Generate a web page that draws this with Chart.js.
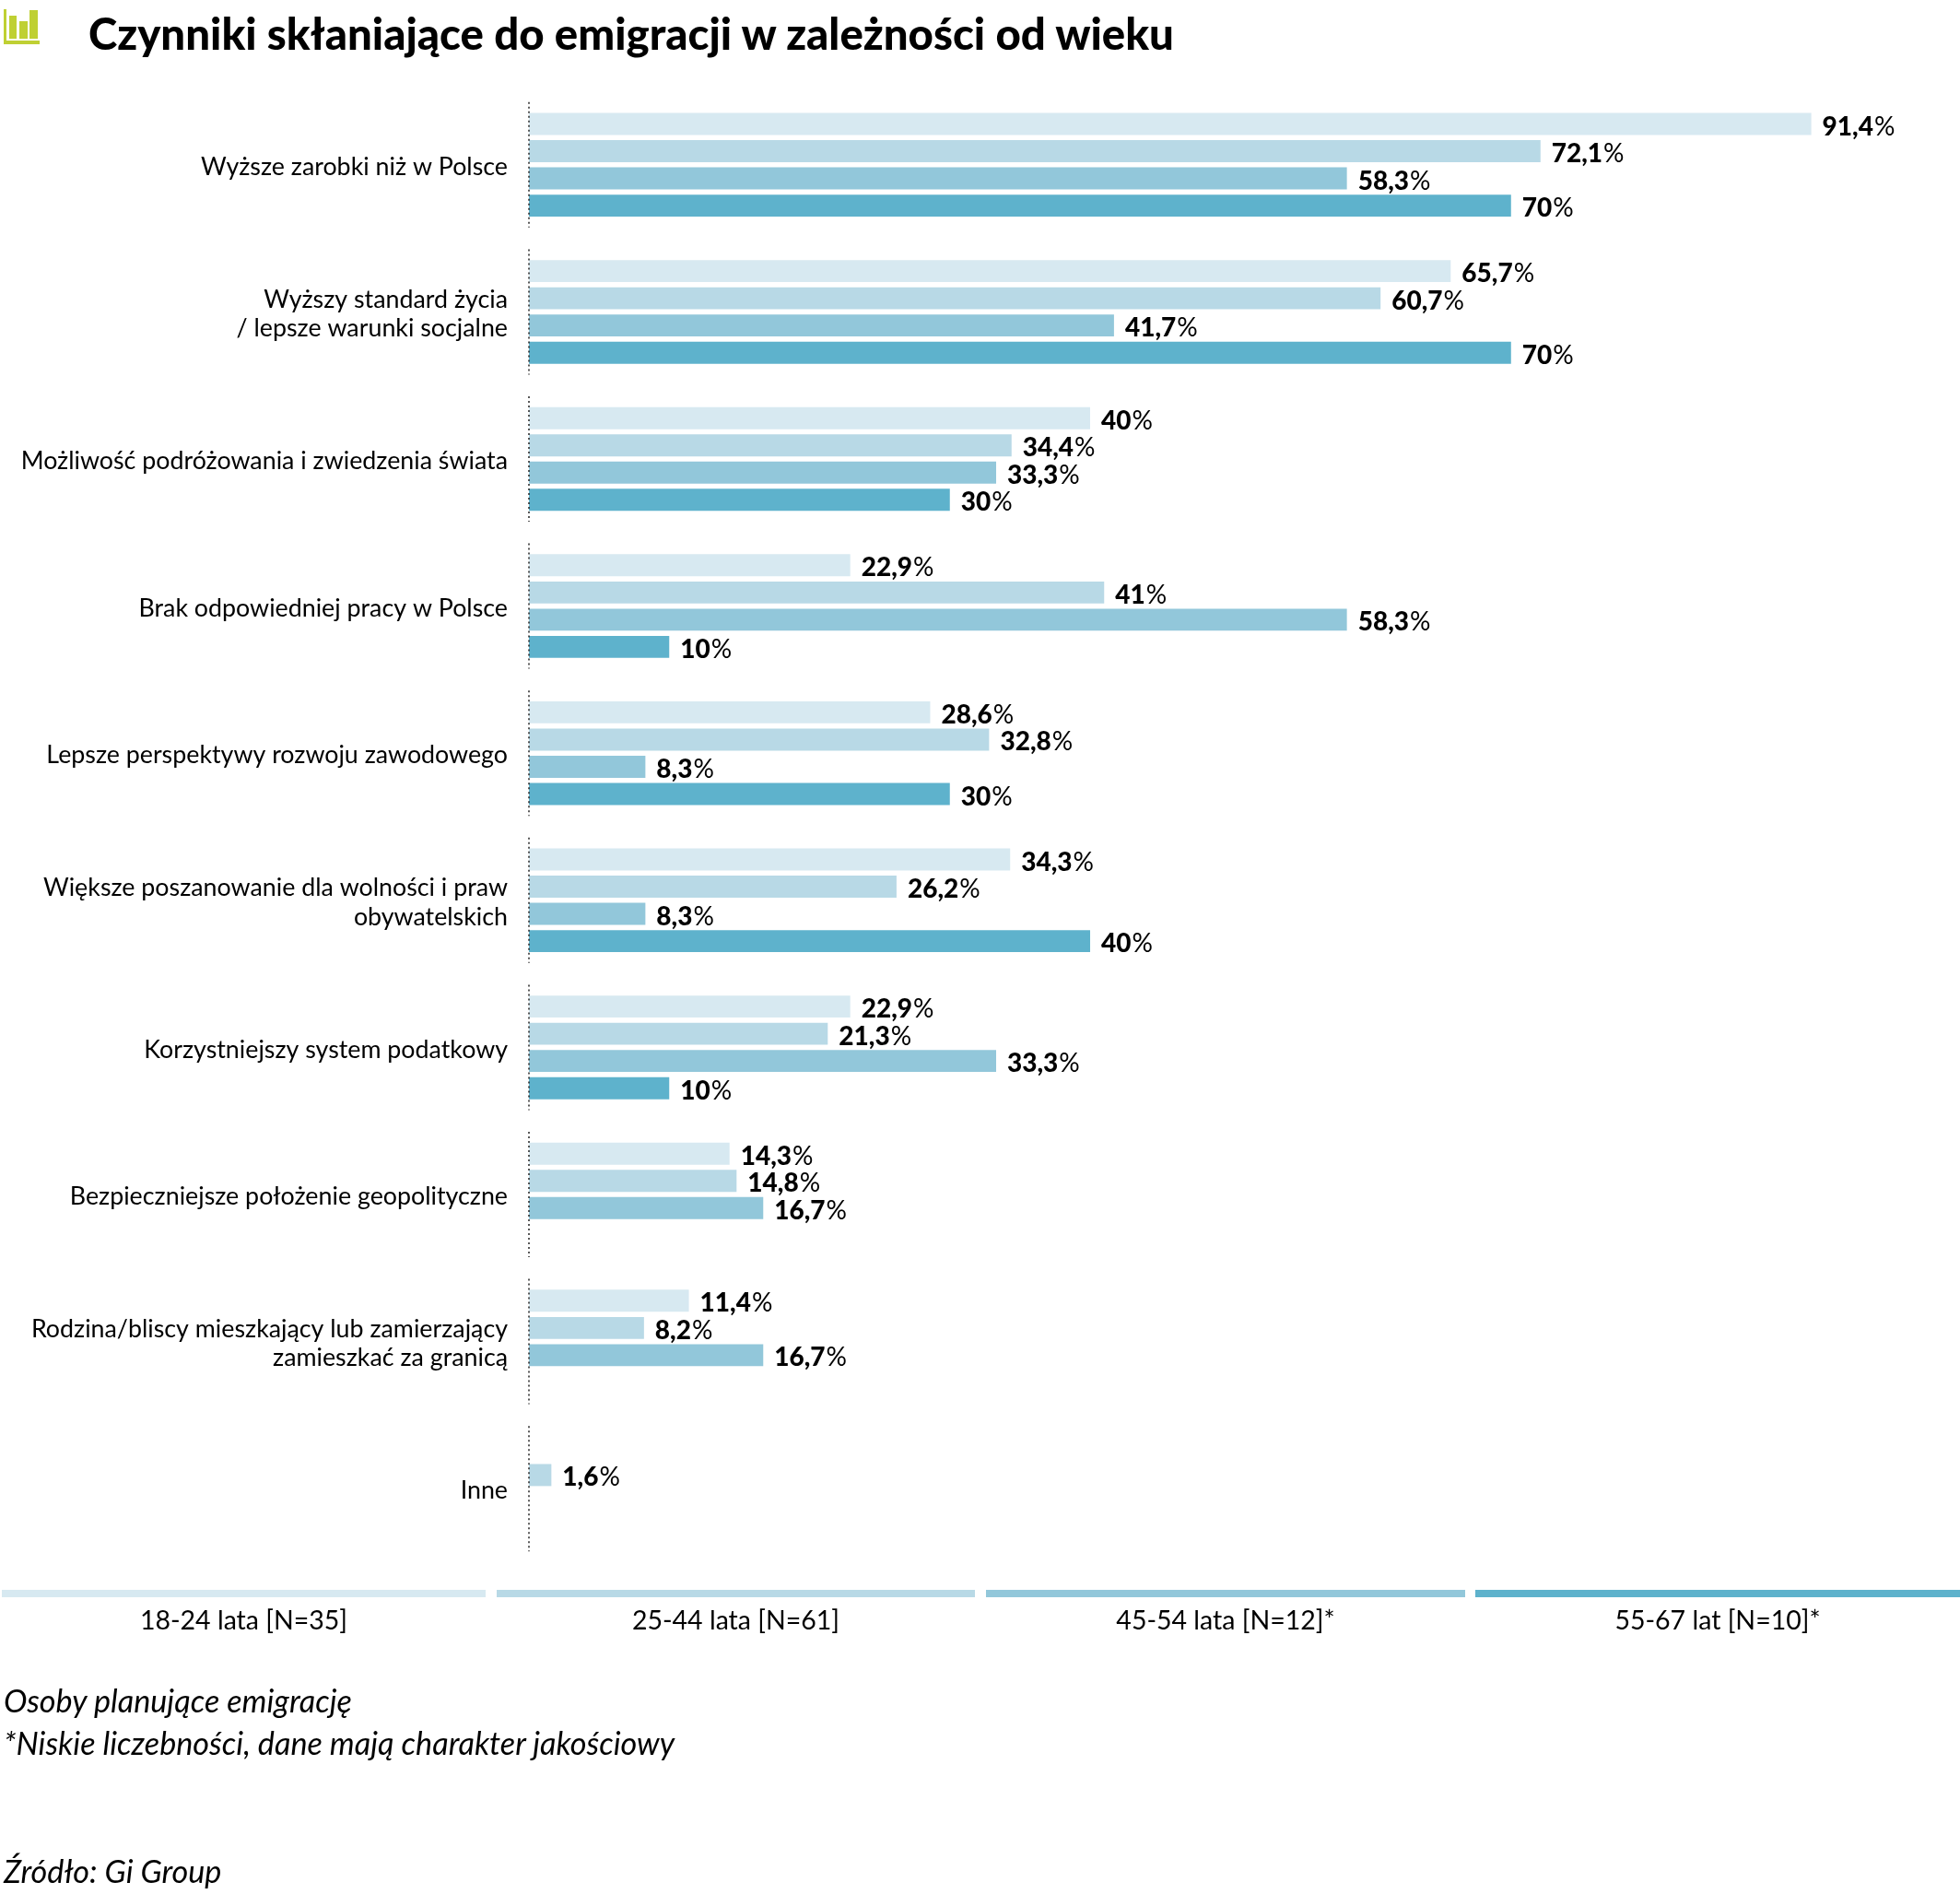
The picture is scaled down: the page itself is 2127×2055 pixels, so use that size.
<!DOCTYPE html>
<html lang="pl">
<head>
<meta charset="utf-8">
<title>Czynniki skłaniające do emigracji w zależności od wieku</title>
<script src="https://cdn.jsdelivr.net/npm/chart.js@4"></script>
<style>
  html, body { margin: 0; padding: 0; background: #fff; }
  #page { position: relative; width: 2127px; height: 2055px; overflow: hidden; font-family: Lato, sans-serif; color: #000; }
  #chart { position: absolute; left: 0; top: 0; }
  .abs { position: absolute; white-space: nowrap; }
  #title { left: 96px; top: 11px; font-size: 47.4px; line-height: 50px; font-weight: 900; }
  .note { left: 4px; font-size: 34.2px; line-height: 40px; font-style: italic; font-weight: 400; }
  .band { position: absolute; top: 1725px; height: 8px; }
  .cap { position: absolute; top: 1739px; font-size: 28.5px; line-height: 36px; text-align: center; font-weight: 400; transform: translateX(-50%); white-space: nowrap; }
</style>
</head>
<body>
<div id="page">
  <canvas id="chart" width="2127" height="2055"></canvas>
  <svg class="abs" style="left:0;top:0" width="50" height="50" viewBox="0 0 50 50">
    <path d="M4 10h3v34h36v4H4z" fill="#bfd033"/>
    <rect x="10" y="17" width="8" height="25" fill="#bfd033"/>
    <rect x="21" y="23" width="9" height="19" fill="#bfd033"/>
    <rect x="32" y="11" width="9" height="31" fill="#bfd033"/>
  </svg>
  <div id="title" class="abs">Czynniki skłaniające do emigracji w zależności od wieku</div>
  <div id="legend"></div>
  <div class="abs note" style="top:1825px">Osoby planujące emigrację</div>
  <div class="abs note" style="top:1871px">*Niskie liczebności, dane mają charakter jakościowy</div>
  <div class="abs note" style="top:2010px">Źródło: Gi Group</div>
</div>
<script>
const categories = [
  'Wyższe zarobki niż w Polsce',
  ['Wyższy standard życia', '/ lepsze warunki socjalne'],
  'Możliwość podróżowania i zwiedzenia świata',
  'Brak odpowiedniej pracy w Polsce',
  'Lepsze perspektywy rozwoju zawodowego',
  ['Większe poszanowanie dla wolności i praw', 'obywatelskich'],
  'Korzystniejszy system podatkowy',
  'Bezpieczniejsze położenie geopolityczne',
  ['Rodzina/bliscy mieszkający lub zamierzający', 'zamieszkać za granicą'],
  'Inne'
];
const seriesNames = ['18-24 lata [N=35]', '25-44 lata [N=61]', '45-54 lata [N=12]*', '55-67 lat [N=10]*'];
const seriesColors = ['#d7e9f1', '#b8d9e6', '#92c7da', '#5eb2cc'];
const age18to24 = [91.4, 65.7, 40, 22.9, 28.6, 34.3, 22.9, 14.3, 11.4, null];
const age25to44 = [72.1, 60.7, 34.4, 41, 32.8, 26.2, 21.3, 14.8, 8.2, 1.6];
const age45to54 = [58.3, 41.7, 33.3, 58.3, 8.3, 8.3, 33.3, 16.7, 16.7, null];
const age55to67 = [70, 70, 30, 10, 30, 40, 10, null, null, null];
const seriesValues = [age18to24, age25to44, age45to54, age55to67];

const FONT = 'Lato, sans-serif';

// Dotted baseline, broken into one segment per category
const dottedBaseline = {
  id: 'dottedBaseline',
  afterDatasetsDraw(chart) {
    const { ctx, scales: { x, y } } = chart;
    const px = x.getPixelForValue(0);
    ctx.save();
    ctx.strokeStyle = '#222';
    ctx.lineWidth = 1.5;
    ctx.setLineDash([2, 3]);
    categories.forEach((_, i) => {
      const c = y.getPixelForTick(i);
      ctx.beginPath();
      ctx.moveTo(px, c - 68);
      ctx.lineTo(px, c + 68);
      ctx.stroke();
    });
    ctx.restore();
  }
};

// Value labels: bold number followed by a lighter percent sign
const valueLabels = {
  id: 'valueLabels',
  afterDatasetsDraw(chart) {
    const { ctx } = chart;
    ctx.save();
    ctx.textBaseline = 'middle';
    ctx.fillStyle = '#000';
    chart.data.datasets.forEach((ds, di) => {
      chart.getDatasetMeta(di).data.forEach((bar, i) => {
        const v = ds.data[i];
        if (v === null) return;
        const num = String(v).replace('.', ',');
        const tx = bar.x + 12, ty = bar.y + 3;
        ctx.font = '900 28px ' + FONT;
        ctx.fillText(num, tx, ty);
        const w = ctx.measureText(num).width;
        ctx.font = '400 28px ' + FONT;
        ctx.fillText('%', tx + w + 1, ty);
      });
    });
    ctx.restore();
  }
};

new Chart(document.getElementById('chart'), {
  type: 'bar',
  data: {
    labels: categories,
    datasets: seriesNames.map((name, i) => ({
      label: name,
      data: seriesValues[i],
      backgroundColor: seriesColors[i],
      categoryPercentage: 0.74,
      barPercentage: 0.81
    }))
  },
  options: {
    indexAxis: 'y',
    responsive: false,
    animation: false,
    layout: { padding: { top: 99, bottom: 360, left: 0, right: 0 } },
    plugins: { legend: { display: false }, title: { display: false }, tooltip: { enabled: false } },
    scales: {
      x: { display: false, min: 0, max: 102 },
      y: {
        grid: { display: false, drawTicks: false },
        border: { display: false },
        afterFit(scale) { scale.width = 574; },
        ticks: {
          padding: 23,
          labelOffset: 2.5,
          color: '#000',
          autoSkip: false,
          font: { family: FONT, size: 26.8, weight: 400, lineHeight: 1.17 }
        }
      }
    }
  },
  plugins: [dottedBaseline, valueLabels]
});

// Legend: a wide colour band with a centred caption below it
const bandEdges = [[2, 527], [539, 1058], [1070, 1590], [1601, 2127]];
const legend = document.getElementById('legend');
seriesNames.forEach((name, i) => {
  const [l, r] = bandEdges[i];
  const band = document.createElement('div');
  band.className = 'band';
  band.style.cssText = `left:${l}px;width:${r - l}px;background:${seriesColors[i]}`;
  legend.appendChild(band);
  const cap = document.createElement('div');
  cap.className = 'cap';
  cap.style.left = ((l + r) / 2) + 'px';
  cap.textContent = name;
  legend.appendChild(cap);
});
</script>
</body>
</html>
